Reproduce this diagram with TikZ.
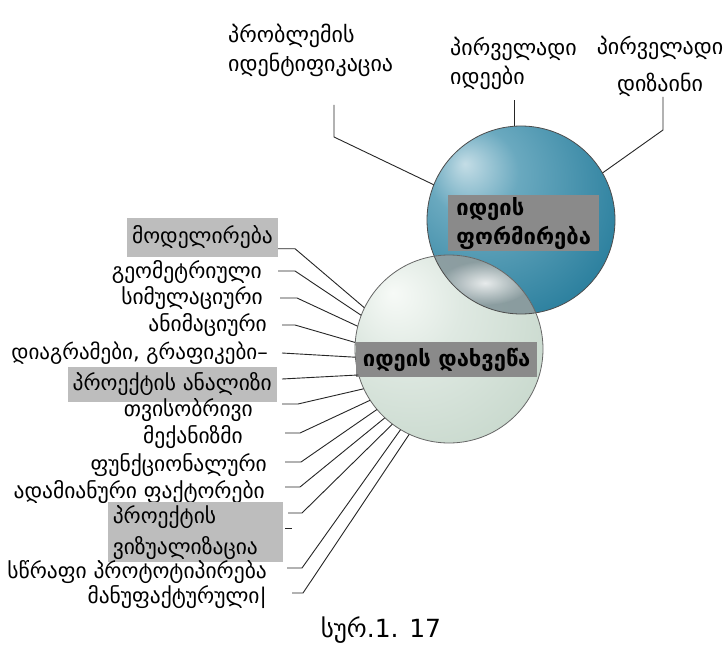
\documentclass[tikz,border=0pt]{standalone}
\usepackage{fontspec}
\setmainfont{DejaVu Sans}
\usetikzlibrary{fadings}
\tikzfading[name=softspot, inner color=transparent!0, outer color=transparent!100]
\definecolor{bhi}{HTML}{C4DDE6}
\definecolor{bmid}{HTML}{6AA9BF}
\definecolor{bbase}{HTML}{2F82A0}
\definecolor{bdark}{HTML}{1A5B74}
\definecolor{phi}{HTML}{F7FAF7}
\definecolor{pmid}{HTML}{DFE9E2}
\definecolor{pbase}{HTML}{C6D7CB}
\definecolor{pdark}{HTML}{9EB7A6}
\definecolor{cgray}{HTML}{8A8A8A}
\definecolor{boxgray}{HTML}{BDBDBD}
\definecolor{lensgray}{HTML}{7E9196}
\pgfdeclareradialshading{blueball}{\pgfpoint{-15bp}{15bp}}{color(0bp)=(bhi); color(12bp)=(bmid); color(35bp)=(bbase); color(55bp)=(bdark); color(75bp)=(bdark)}
\pgfdeclareradialshading{paleball}{\pgfpoint{-15bp}{15bp}}{color(0bp)=(phi); color(15bp)=(pmid); color(40bp)=(pbase); color(60bp)=(pdark); color(75bp)=(pdark)}
\begin{document}
\begin{tikzpicture}[x=1pt,y=-1pt,
  lbl/.style={anchor=east, inner sep=0pt, font=\fontsize{21.5}{24}\selectfont},
  gbox/.style={fill=boxgray, inner xsep=5pt, inner ysep=0pt, font=\fontsize{21.5}{31}\selectfont},
  conn/.style={draw=black!85, line width=0.9pt},
  cbox/.style={fill=cgray, font=\bfseries\fontsize{22}{29}\selectfont, align=left, inner xsep=5pt, inner ysep=4pt},
  toplbl/.style={font=\fontsize{22}{29}\selectfont, inner sep=0pt},
  ball/.style={circle, minimum size=188pt, inner sep=0pt}]
\useasboundingbox (0,0) rectangle (727,647);
\fill[white] (0,0) rectangle (727,647);

% circles
\node[ball] (fc) at (521,220) {};
\node[ball] (dc) at (449,349) {};
\shade[shading=blueball] (fc.center) circle[radius=94pt];
\shade[shading=paleball] (dc.center) circle[radius=94pt];
\begin{scope}
  \clip (dc.center) circle[radius=94pt];
  \clip (fc.center) circle[radius=94pt];
  \fill[lensgray, opacity=0.85] (fc.center) circle[radius=94pt];
  \fill[white, opacity=0.8, path fading=softspot] (485,283) ellipse[x radius=45pt, y radius=22pt];
\end{scope}
\draw[black!70, line width=0.8pt] (fc.center) circle[radius=94pt];
\draw[black!60, line width=0.8pt] (dc.center) circle[radius=94pt];

% circle labels
\node[cbox, anchor=north west, minimum width=151pt, minimum height=53pt, inner ysep=2pt] (form) at (448,195) {იდეის\\ფორმირება};
\node[cbox, anchor=north west, minimum width=181pt, minimum height=35pt, inner ysep=0pt] (refine) at (356,342) {იდეის დახვეწა};

% top labels
\node[toplbl, anchor=west, align=left] (prob) at (228,50) {პრობლემის\\იდენტიფიკაცია};
\node[toplbl, anchor=west, align=left] (ideas) at (450,63) {პირველადი\\იდეები};
\node[toplbl, align=center, font=\fontsize{22}{37}\selectfont] (design) at (660,66) {პირველადი\\დიზაინი};
\coordinate (pA) at (334,105);
\coordinate (pB) at (515,100);
\coordinate (pC) at (663,97);
\draw[conn] (pA) -- ++(0,32) -- (fc.158);
\draw[conn] (fc.94) -- (fc.94 |- pB);
\draw[conn] (pC) -- ++(0,33) -- (fc.30);

% left labels
\node[gbox, anchor=east, minimum height=39pt] (mod) at (278,237) {მოდელირება};
\node[lbl] (geo) at (262,272) {გეომეტრიული};
\node[lbl] (sim) at (263,298) {სიმულაციური};
\node[lbl] (anim) at (267,325) {ანიმაციური};
\node[lbl, font=\fontsize{21}{24}\selectfont] (diag) at (268,353) {დიაგრამები, გრაფიკები–};
\node[gbox, anchor=east, minimum height=35pt] (ana) at (277,384) {პროექტის ანალიზი};
\node[lbl] (thv) at (253,410) {თვისობრივი};
\node[lbl] (mech) at (243,437) {მექანიზმი};
\node[lbl] (func) at (267,465) {ფუნქციონალური};
\node[lbl] (hum) at (265,492) {ადამიანური ფაქტორები};
\node[gbox, anchor=north east, align=left, minimum height=60pt, text width=165pt] (viz) at (283,502) {პროექტის\\ვიზუალიზაცია};
\node[lbl] (rap) at (267,572) {სწრაფი პროტოტიპირება};
\node[lbl] (man) at (267,597) {მანუფაქტურული|};

\draw[conn] ([yshift=8pt]mod.south east) -- ++(17,0) -- (dc.154);
\draw[conn] ([xshift=16pt,yshift=1pt]geo.east) -- ++(17,0) -- (dc.159);
\draw[conn] ([xshift=17pt]sim.east) -- ++(17,0) -- (dc.166);
\draw[conn] ([xshift=15pt]anim.east) -- ++(13,0) -- (dc.176);
\draw[conn] ([xshift=14pt]diag.east) -- (dc.185);
\draw[conn] ([xshift=5pt,yshift=5pt]ana.east) -- (dc.196);
\draw[conn] ([xshift=29pt,yshift=6pt]thv.east) -- ++(16,0) -- (dc.205);
\draw[conn] ([xshift=42pt,yshift=4pt]mech.east) -- ++(15,0) -- (dc.213);
\draw[conn] ([xshift=18pt,yshift=3pt]func.east) -- ++(16,0) -- (dc.220);
\draw[conn] ([xshift=20pt,yshift=5pt]hum.east) -- ++(15,0) -- (dc.227);
\draw[conn] ([xshift=5pt,yshift=-11pt]viz.north east) -- ++(14,0) -- (dc.233);
\draw[conn] ([xshift=2pt,yshift=-26pt]viz.north east) -- ++(7,0);
\draw[conn] ([xshift=20pt,yshift=4pt]rap.east) -- ++(15,0) -- (dc.239);
\draw[conn] ([xshift=25pt,yshift=4pt]man.east) -- ++(11,0) -- (dc.245);

% caption
\node[font=\fontsize{25}{28}\selectfont, inner sep=0pt] (cap) at (381,630) {სურ.1. 17};
\end{tikzpicture}
\end{document}
